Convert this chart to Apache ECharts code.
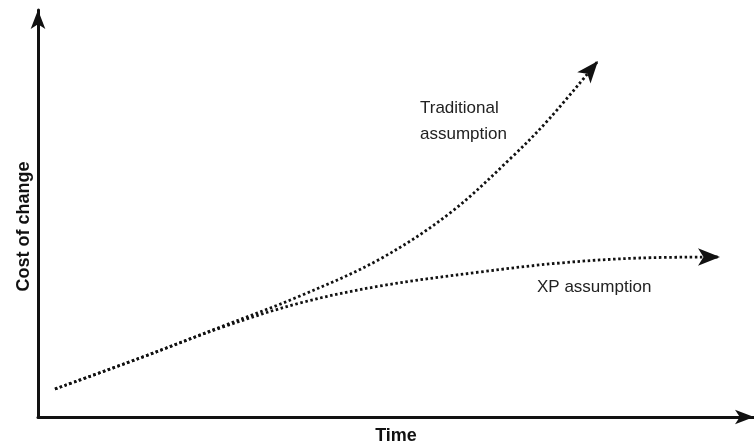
<!DOCTYPE html>
<html>
<head>
<meta charset="utf-8">
<script src="https://cdn.jsdelivr.net/npm/echarts@6/dist/echarts.min.js"></script>
<style>
html,body{margin:0;padding:0;background:#fff;}
#chart{width:754px;height:444px;}
</style>
</head>
<body>
<div id="chart"></div>
<script>
// Values (time units across, cost units up)
const xpTime = [17, 102, 185, 262, 342, 442, 522, 602, 682];
const xpCost = [28, 59, 90, 114, 131, 145, 154, 159, 160];
const tradTime = [17, 102, 185, 262, 342, 412, 474, 512, 560];
const tradCost = [28, 59, 91, 121, 158, 204, 260, 299, 356];
const xAxisName = 'Time';
const yAxisName = 'Cost of change';
const tradLabel = ['Traditional', 'assumption'];
const xpLabel = 'XP assumption';

function buildData(xs, ys, rotate) {
  return xs.map(function (x, i) {
    const item = { value: [x, ys[i]] };
    if (i === xs.length - 1) {
      item.symbol = 'arrow';
      item.symbolSize = [13, 22];
      item.symbolRotate = rotate;
      item.itemStyle = { color: '#111', borderWidth: 0 };
    }
    return item;
  });
}

const chart = echarts.init(document.getElementById('chart'));
const lineStyle = { color: '#111', width: 2.8, type: [2.5, 2.6], cap: 'butt' };
const font = 'Liberation Sans, Arial, sans-serif';

chart.setOption({
  animation: false,
  backgroundColor: '#fff',
  grid: { left: 38, right: 0, top: 10, bottom: 27, containLabel: false, outerBoundsMode: 'none' },
  xAxis: {
    type: 'value', min: 0, max: 716,
    name: xAxisName, nameLocation: 'middle', nameGap: 10,
    nameTextStyle: { fontFamily: font, fontWeight: 'bold', fontSize: 18, color: '#111' },
    axisLine: { show: true, symbol: ['none', 'arrow'], symbolSize: [11, 19],
      lineStyle: { color: '#111', width: 3 } },
    axisTick: { show: false }, axisLabel: { show: false }, splitLine: { show: false }
  },
  yAxis: {
    type: 'value', min: 0, max: 407,
    name: yAxisName, nameLocation: 'middle', nameGap: 5, nameRotate: 90,
    nameTextStyle: { fontFamily: font, fontWeight: 'bold', fontSize: 18, color: '#111', padding: [0, 26, 0, 0] },
    axisLine: { show: true, symbol: ['none', 'arrow'], symbolSize: [11, 19],
      lineStyle: { color: '#111', width: 3 } },
    axisTick: { show: false }, axisLabel: { show: false }, splitLine: { show: false }
  },
  graphic: [
    { type: 'text', left: 420, top: 95, style: { text: tradLabel.join('\n'), lineHeight: 26,
      font: '17px ' + font, fill: '#222' } },
    { type: 'text', left: 537, top: 279, style: { text: xpLabel,
      font: '17px ' + font, fill: '#222' } }
  ],
  series: [
    {
      type: 'line', smooth: 0.35, symbol: 'none', showSymbol: true,
      data: buildData(tradTime, tradCost, -40),
      lineStyle: lineStyle, z: 3
    },
    {
      type: 'line', smooth: 0.35, symbol: 'none', showSymbol: true,
      data: buildData(xpTime, xpCost, -90),
      lineStyle: lineStyle, z: 3
    }
  ]
});
</script>
</body>
</html>
